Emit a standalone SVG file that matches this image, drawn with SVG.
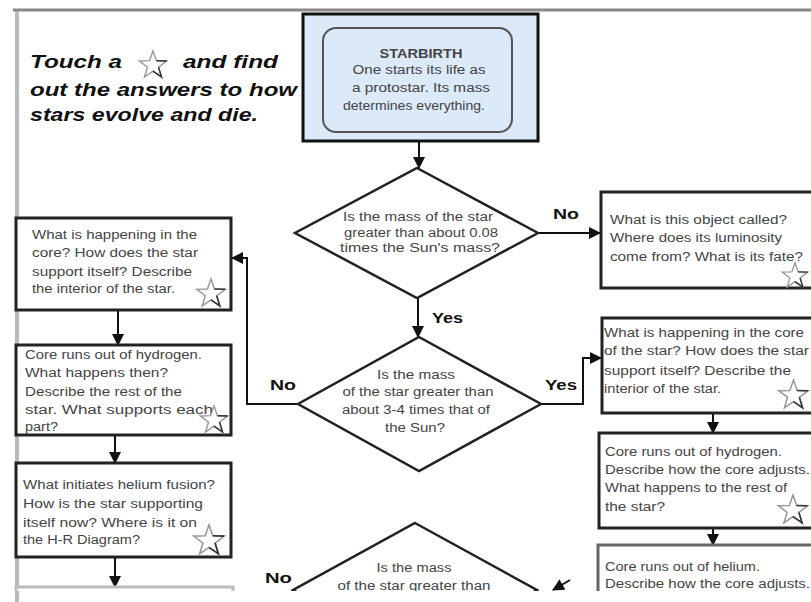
<svg xmlns="http://www.w3.org/2000/svg" width="811" height="602" viewBox="0 0 811 602">
<style>
text{font-family:"Liberation Sans",Arial,sans-serif;}
.t{font-size:12px;fill:#444;}
.tc{font-size:12px;fill:#444;text-anchor:middle;}
.lbl{font-size:14px;font-weight:bold;fill:#111;}
.title{font-size:19px;font-weight:bold;font-style:italic;fill:#111;}
.box{fill:#fff;stroke:#222;stroke-width:3;}
.dia{fill:#fff;stroke:#222;stroke-width:2.5;}
.con{fill:none;stroke:#111;stroke-width:2;}
</style>
<defs>
<marker id="ah" markerUnits="userSpaceOnUse" markerWidth="12" markerHeight="12" refX="11" refY="6" orient="auto">
<path d="M0,0 L12,6 L0,12 Z" fill="#111"/>
</marker>
<symbol id="star" viewBox="-17 -17 34 31" overflow="visible">
<path d="M0,-16 L3.8,-5.2 L15.2,-4.9 L6.1,2 L9.4,12.9 L0,6.4 L-9.4,12.9 L-6.1,2 L-15.2,-4.9 L-3.8,-5.2 Z" fill="#fff" stroke="#999" stroke-width="1.6"/>
<path d="M6.1,2 L9.4,12.9 L0,6.4 M3.8,-5.2 L15.2,-4.9" fill="none" stroke="#333" stroke-width="1.6"/>
</symbol>
<clipPath id="clip"><rect x="0" y="0" width="811" height="591"/></clipPath>
</defs>
<rect width="811" height="602" fill="#fff"/>
<line x1="17" y1="11" x2="17" y2="602" stroke="#bbb" stroke-width="4"/>
<line x1="13" y1="10" x2="811" y2="10" stroke="#888" stroke-width="3"/>

<g id="title">
<text class="title" x="30" y="68" textLength="92" lengthAdjust="spacingAndGlyphs">Touch a</text>
<use href="#star" x="134" y="50" width="38" height="28"/>
<text class="title" x="183" y="68" textLength="95" lengthAdjust="spacingAndGlyphs">and find</text>
<text class="title" x="30" y="96" textLength="267" lengthAdjust="spacingAndGlyphs">out the answers to how</text>
<text class="title" x="30" y="121" textLength="228" lengthAdjust="spacingAndGlyphs">stars evolve and die.</text>
</g>

<g clip-path="url(#clip)">
<g id="connectors">
<line class="con" x1="419" y1="141" x2="419" y2="168" marker-end="url(#ah)"/>
<line class="con" x1="538" y1="233" x2="600" y2="233" marker-end="url(#ah)"/>
<line class="con" x1="418" y1="298" x2="418" y2="337" marker-end="url(#ah)"/>
<polyline class="con" points="298,404 247,404 247,258 232,258" marker-end="url(#ah)"/>
<polyline class="con" points="541,404 583,404 583,358 601,358" marker-end="url(#ah)"/>
<line class="con" x1="118" y1="310" x2="118" y2="345" marker-end="url(#ah)"/>
<line class="con" x1="115" y1="435" x2="115" y2="463" marker-end="url(#ah)"/>
<line class="con" x1="115" y1="557" x2="115" y2="587" marker-end="url(#ah)"/>
<line class="con" x1="713" y1="413" x2="713" y2="433" marker-end="url(#ah)"/>
<line class="con" x1="713" y1="528" x2="713" y2="545" marker-end="url(#ah)"/>
<line class="con" x1="570" y1="580" x2="553" y2="590" marker-end="url(#ah)"/>
<text class="lbl" x="553" y="219" textLength="26" lengthAdjust="spacingAndGlyphs">No</text>
<text class="lbl" x="432" y="323" textLength="31" lengthAdjust="spacingAndGlyphs">Yes</text>
<text class="lbl" x="270" y="390" textLength="26" lengthAdjust="spacingAndGlyphs">No</text>
<text class="lbl" x="545" y="390" textLength="32" lengthAdjust="spacingAndGlyphs">Yes</text>
<text class="lbl" x="265" y="583" textLength="27" lengthAdjust="spacingAndGlyphs">No</text>
</g>

<g id="starbirth">
<rect x="303" y="14" width="235" height="127" fill="#dce9f8" stroke="#111" stroke-width="3"/>
<rect x="323" y="28" width="189" height="104" rx="13" fill="none" stroke="#555" stroke-width="2"/>
<text class="tc" x="421" y="58" font-weight="bold" textLength="83" lengthAdjust="spacingAndGlyphs">STARBIRTH</text>
<text class="tc" x="419" y="74" textLength="133" lengthAdjust="spacingAndGlyphs">One starts its life as</text>
<text class="tc" x="421" y="92" textLength="138" lengthAdjust="spacingAndGlyphs">a protostar.  Its mass</text>
<text class="tc" x="414" y="110" textLength="142" lengthAdjust="spacingAndGlyphs">determines everything.</text>
</g>

<g id="decision1">
<polygon class="dia" points="417,168 538,233 417,298 295,233"/>
<text class="tc" x="418" y="221" textLength="150" lengthAdjust="spacingAndGlyphs">Is the mass of the star</text>
<text class="tc" x="421" y="237" textLength="154" lengthAdjust="spacingAndGlyphs">greater than about 0.08</text>
<text class="tc" x="420" y="252" textLength="160" lengthAdjust="spacingAndGlyphs">times the Sun's mass?</text>
</g>

<g id="browndwarf">
<rect class="box" x="601" y="192" width="230" height="96"/>
<text class="t" x="610" y="224" textLength="177" lengthAdjust="spacingAndGlyphs">What is this object called?</text>
<text class="t" x="610" y="242" textLength="172" lengthAdjust="spacingAndGlyphs">Where does its luminosity</text>
<text class="t" x="610" y="261" textLength="193" lengthAdjust="spacingAndGlyphs">come from?  What is its fate?</text>
<use href="#star" x="780" y="262" width="30" height="26"/>
</g>

<g id="decision2">
<polygon class="dia" points="419,337 541,404 419,471 298,404"/>
<text class="tc" x="416" y="379" textLength="78" lengthAdjust="spacingAndGlyphs">Is the mass</text>
<text class="tc" x="418" y="396" textLength="151" lengthAdjust="spacingAndGlyphs">of the star greater than</text>
<text class="tc" x="416" y="414" textLength="148" lengthAdjust="spacingAndGlyphs">about 3-4 times that of</text>
<text class="tc" x="415" y="432" textLength="60" lengthAdjust="spacingAndGlyphs">the Sun?</text>
</g>

<g id="lowmass1">
<rect class="box" x="16" y="218" width="215" height="92"/>
<text class="t" x="32" y="239" textLength="165" lengthAdjust="spacingAndGlyphs">What is happening in the</text>
<text class="t" x="32" y="257" textLength="166" lengthAdjust="spacingAndGlyphs">core?  How does the star</text>
<text class="t" x="32" y="276" textLength="160" lengthAdjust="spacingAndGlyphs">support itself?  Describe</text>
<text class="t" x="32" y="293" textLength="143" lengthAdjust="spacingAndGlyphs">the interior of the star.</text>
<use href="#star" x="194" y="278" width="34" height="29"/>
</g>

<g id="lowmass2">
<rect class="box" x="16" y="345" width="215" height="90"/>
<text class="t" x="25" y="359" textLength="177" lengthAdjust="spacingAndGlyphs">Core runs out of hydrogen.</text>
<text class="t" x="25" y="377" textLength="143" lengthAdjust="spacingAndGlyphs">What happens then?</text>
<text class="t" x="25" y="396" textLength="157" lengthAdjust="spacingAndGlyphs">Describe the rest of the</text>
<text class="t" x="25" y="414" textLength="188" lengthAdjust="spacingAndGlyphs">star.  What supports each</text>
<text class="t" x="25" y="431" textLength="33" lengthAdjust="spacingAndGlyphs">part?</text>
<use href="#star" x="198" y="405" width="32" height="28"/>
</g>

<g id="lowmass3">
<rect class="box" x="16" y="463" width="215" height="94"/>
<text class="t" x="23" y="489" textLength="192" lengthAdjust="spacingAndGlyphs">What initiates helium fusion?</text>
<text class="t" x="23" y="508" textLength="180" lengthAdjust="spacingAndGlyphs">How is the star supporting</text>
<text class="t" x="23" y="527" textLength="174" lengthAdjust="spacingAndGlyphs">itself now?  Where is it on</text>
<text class="t" x="23" y="544" textLength="117" lengthAdjust="spacingAndGlyphs">the H-R Diagram?</text>
<use href="#star" x="191" y="524" width="36" height="31"/>
</g>

<g id="lowmass4">
<rect x="16" y="587" width="217" height="40" fill="#fff" stroke="#bbb" stroke-width="3"/>
</g>

<g id="highmass1">
<rect class="box" x="602" y="318" width="230" height="95"/>
<text class="t" x="604" y="337" textLength="200" lengthAdjust="spacingAndGlyphs">What is happening in the core</text>
<text class="t" x="604" y="355" textLength="205" lengthAdjust="spacingAndGlyphs">of the star?  How does the star</text>
<text class="t" x="604" y="375" textLength="187" lengthAdjust="spacingAndGlyphs">support itself?  Describe the</text>
<text class="t" x="604" y="393" textLength="117" lengthAdjust="spacingAndGlyphs">interior of the star.</text>
<use href="#star" x="777" y="379" width="33" height="30"/>
</g>

<g id="highmass2">
<rect class="box" x="599" y="433" width="230" height="95"/>
<text class="t" x="605" y="456" textLength="177" lengthAdjust="spacingAndGlyphs">Core runs out of hydrogen.</text>
<text class="t" x="605" y="474" textLength="205" lengthAdjust="spacingAndGlyphs">Describe how the core adjusts.</text>
<text class="t" x="605" y="492" textLength="182" lengthAdjust="spacingAndGlyphs">What happens to the rest of</text>
<text class="t" x="605" y="511" textLength="60" lengthAdjust="spacingAndGlyphs">the star?</text>
<use href="#star" x="776" y="494" width="34" height="30"/>
</g>

<g id="highmass3">
<rect x="598" y="545" width="230" height="90" fill="#fff" stroke="#666" stroke-width="3"/>
<text class="t" x="605" y="571" textLength="155" lengthAdjust="spacingAndGlyphs">Core runs out of helium.</text>
<text class="t" x="605" y="588" textLength="205" lengthAdjust="spacingAndGlyphs">Describe how the core adjusts.</text>
</g>

<g id="decision3">
<polygon class="dia" points="415,523 537,590 415,657 293,590"/>
<text class="tc" x="414" y="572" textLength="75" lengthAdjust="spacingAndGlyphs">Is the mass</text>
<text class="tc" x="414" y="590" textLength="153" lengthAdjust="spacingAndGlyphs">of the star greater than</text>
</g>
</g>
</svg>
